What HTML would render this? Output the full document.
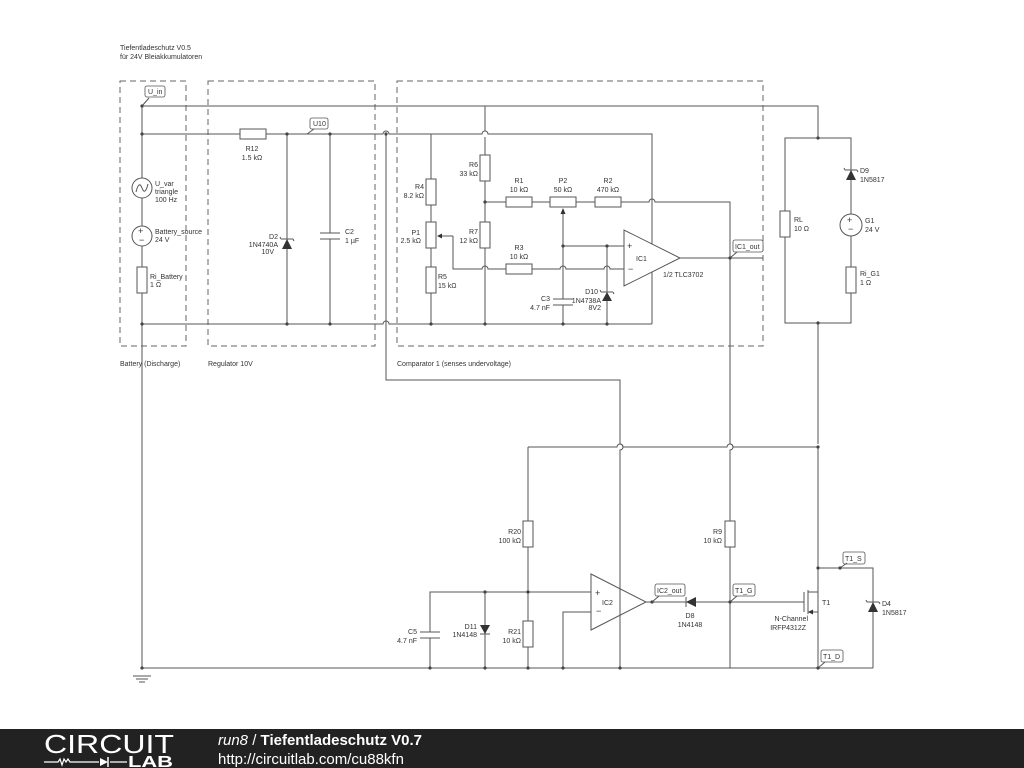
<!DOCTYPE html>
<html><head><meta charset="utf-8"><style>
html,body{margin:0;padding:0;background:#fff;}
svg{display:block;font-family:"Liberation Sans",sans-serif;}
.w{stroke:#555;stroke-width:1;fill:none;}
.d{stroke:#666;stroke-width:1;fill:none;stroke-dasharray:6,4;}
.r{stroke:#555;stroke-width:1;fill:#fff;}
text{font-size:7px;fill:#333;}
.lb{fill:#fff;stroke:#555;stroke-width:0.8;}
.n{fill:#444;}
</style></head><body>
<svg width="1024" height="768" viewBox="0 0 1024 768">
<rect width="1024" height="768" fill="#fff"/>
<text x="120" y="50">Tiefentladeschutz V0.5</text>
<text x="120" y="59">für 24V Bleiakkumulatoren</text>
<rect class="d" x="120" y="81" width="66" height="265"/>
<rect class="d" x="208" y="81" width="167" height="265"/>
<rect class="d" x="397" y="81" width="366" height="265"/>
<text x="120" y="366">Battery (Discharge)</text>
<text x="208" y="366">Regulator 10V</text>
<text x="397" y="366">Comparator 1 (senses undervoltage)</text>

<path class="w" d="M142 106 H818 V138"/>
<path class="w" d="M142 106 V668"/>
<circle class="r" cx="142" cy="188" r="10"/>
<path class="w" d="M136 192 Q139 180 142 188 Q145 196 148 184"/>
<text x="155" y="186">U_var</text><text x="155" y="194">triangle</text><text x="155" y="202">100 Hz</text>
<circle class="r" cx="142" cy="236" r="10"/>
<text x="138" y="234" style="font-size:9px">+</text><text x="139" y="243" style="font-size:9px">−</text>
<text x="155" y="234">Battery_source</text><text x="155" y="242">24 V</text>
<rect class="r" x="137" y="267" width="10" height="26"/>
<text x="150" y="279">Ri_Battery</text><text x="150" y="287">1 Ω</text>
<path class="w" d="M133 676 H151 M136 679 H148 M139 682 H145"/>

<path class="w" d="M142 134 H383 A3 3 0 0 1 389 134 H482 A3 3 0 0 1 488 134 H652 V324"/>
<rect class="r" x="240" y="129" width="26" height="10"/>
<text x="252" y="151" text-anchor="middle">R12</text><text x="252" y="160" text-anchor="middle">1.5 kΩ</text>
<path class="w" d="M142 324 H383 A3 3 0 0 1 389 324 H652"/>
<path class="w" d="M287 134 V324"/>
<polygon points="282,249 292,249 287,239" fill="#333"/>
<path class="w" d="M281 239 H293 M281 239 l-1 -2 M293 239 l1 2"/>
<text x="278" y="239" text-anchor="end">D2</text><text x="278" y="247" text-anchor="end">1N4740A</text><text x="274" y="254" text-anchor="end">10V</text>
<path class="w" d="M330 134 V233 M330 239 V324"/>
<path class="w" d="M320 233 H340 M320 239 H340"/>
<text x="345" y="234">C2</text><text x="345" y="243">1 µF</text>
<rect class="lb" x="310" y="118" width="18" height="11" rx="2"/><text x="313" y="126">U10</text>
<path class="w" d="M307 134 L314 129"/>
<rect class="lb" x="145" y="86" width="20" height="11" rx="2"/><text x="148" y="94">U_in</text>
<path class="w" d="M142 106 L149 98"/>

<path class="w" d="M386 134 V380 H620 V444 A3 3 0 0 1 620 450 V668"/>

<path class="w" d="M431 134 V324"/>
<rect class="r" x="426" y="179" width="10" height="26"/>
<text x="424" y="189" text-anchor="end">R4</text><text x="424" y="198" text-anchor="end">8.2 kΩ</text>
<rect class="r" x="426" y="222" width="10" height="26"/>
<text x="420" y="235" text-anchor="end">P1</text><text x="421" y="243" text-anchor="end">2.5 kΩ</text>
<rect class="r" x="426" y="267" width="10" height="26"/>
<text x="438" y="279">R5</text><text x="438" y="288">15 kΩ</text>
<path class="w" d="M453 236 H438 M453 236 V269 H482 A3 3 0 0 1 488 269 H560 A3 3 0 0 1 566 269 H604 A3 3 0 0 1 610 269 H624"/>
<polygon points="437,236 442,233.5 442,238.5" fill="#333"/>
<rect class="r" x="506" y="264" width="26" height="10"/>
<text x="519" y="250" text-anchor="middle">R3</text><text x="519" y="259" text-anchor="middle">10 kΩ</text>

<path class="w" d="M485 106 V131 M485 137 V324"/>
<rect class="r" x="480" y="155" width="10" height="26"/>
<text x="478" y="167" text-anchor="end">R6</text><text x="478" y="176" text-anchor="end">33 kΩ</text>
<rect class="r" x="480" y="222" width="10" height="26"/>
<text x="478" y="234" text-anchor="end">R7</text><text x="478" y="243" text-anchor="end">12 kΩ</text>
<path class="w" d="M485 202 H649 A3 3 0 0 1 655 202 H730 V444 A3 3 0 0 1 730 450 V668"/>
<path class="w" d="M680 258 H763"/>
<rect class="r" x="506" y="197" width="26" height="10"/>
<text x="519" y="183" text-anchor="middle">R1</text><text x="519" y="192" text-anchor="middle">10 kΩ</text>
<rect class="r" x="550" y="197" width="26" height="10"/>
<text x="563" y="183" text-anchor="middle">P2</text><text x="563" y="192" text-anchor="middle">50 kΩ</text>
<rect class="r" x="595" y="197" width="26" height="10"/>
<text x="608" y="183" text-anchor="middle">R2</text><text x="608" y="192" text-anchor="middle">470 kΩ</text>
<path class="w" d="M563 209 V299 M563 305 V324"/>
<polygon points="563,208 560.5,214 565.5,214" fill="#333"/>
<path class="w" d="M563 246 H624 M607 246 V324"/>
<path class="w" d="M553 299 H573 M553 305 H573"/>
<text x="550" y="301" text-anchor="end">C3</text><text x="550" y="310" text-anchor="end">4.7 nF</text>
<polygon points="602,301 612,301 607,292" fill="#333"/>
<path class="w" d="M601 292 H613 M601 292 l-1 -2 M613 292 l1 2"/>
<text x="598" y="294" text-anchor="end">D10</text><text x="601" y="303" text-anchor="end">1N4738A</text><text x="601" y="310" text-anchor="end">8V2</text>
<polygon class="r" points="624,230 624,286 680,258"/>
<text x="627" y="249" style="font-size:9px">+</text><text x="628" y="272" style="font-size:9px">−</text>
<text x="636" y="261">IC1</text>
<text x="663" y="277">1/2 TLC3702</text>
<rect class="lb" x="733" y="240" width="30" height="12" rx="2"/><text x="735" y="249">IC1_out</text>
<path class="w" d="M730 258 L737 252"/>

<path class="w" d="M785 138 H851 V323 H785 Z"/>
<path class="w" d="M818 323 V444 M818 447 V668"/>
<rect class="r" x="780" y="211" width="10" height="26"/>
<text x="794" y="222">RL</text><text x="794" y="231">10 Ω</text>
<polygon points="846,180 856,180 851,170" fill="#333"/>
<path class="w" d="M845 170 H857 M845 170 l-1 -2 M857 170 l1 2"/>
<text x="860" y="173">D9</text><text x="860" y="182">1N5817</text>
<circle class="r" cx="851" cy="225" r="11"/>
<text x="847" y="223" style="font-size:9px">+</text><text x="848" y="232" style="font-size:9px">−</text>
<text x="865" y="223">G1</text><text x="865" y="232">24 V</text>
<rect class="r" x="846" y="267" width="10" height="26"/>
<text x="860" y="276">Ri_G1</text><text x="860" y="285">1 Ω</text>

<path class="w" d="M528 447 H617 A3 3 0 0 1 623 447 H727 A3 3 0 0 1 733 447 H818"/>
<path class="w" d="M528 447 V668"/>
<rect class="r" x="523" y="521" width="10" height="26"/>
<text x="521" y="534" text-anchor="end">R20</text><text x="521" y="543" text-anchor="end">100 kΩ</text>
<rect class="r" x="523" y="621" width="10" height="26"/>
<text x="521" y="634" text-anchor="end">R21</text><text x="521" y="643" text-anchor="end">10 kΩ</text>
<path class="w" d="M430 668 V638 M430 632 V592 H591"/>
<path class="w" d="M420 632 H440 M420 638 H440"/>
<text x="417" y="634" text-anchor="end">C5</text><text x="417" y="643" text-anchor="end">4.7 nF</text>
<path class="w" d="M485 592 V668"/>
<polygon points="480,625 490,625 485,634" fill="#333"/>
<path class="w" d="M480 634 H490"/>
<text x="477" y="629" text-anchor="end">D11</text><text x="477" y="637" text-anchor="end">1N4148</text>
<path class="w" d="M563 668 V612 H591"/>
<polygon class="r" points="591,574 591,630 646,602"/>
<path class="w" d="M620 574 V630"/>
<text x="595" y="596" style="font-size:9px">+</text><text x="596" y="614" style="font-size:9px">−</text>
<text x="602" y="605">IC2</text>
<path class="w" d="M646 602 H804"/>
<polygon points="696,597 696,607 686,602" fill="#333"/>
<path class="w" d="M686 597 V607"/>
<text x="690" y="618" text-anchor="middle">D8</text><text x="690" y="627" text-anchor="middle">1N4148</text>
<rect class="lb" x="655" y="584" width="30" height="12" rx="2"/><text x="657" y="593">IC2_out</text>
<path class="w" d="M652 602 L659 596"/>
<rect class="lb" x="733" y="584" width="22" height="12" rx="2"/><text x="735" y="593">T1_G</text>
<path class="w" d="M730 602 L737 596"/>
<rect class="r" x="725" y="521" width="10" height="26"/>
<text x="722" y="534" text-anchor="end">R9</text><text x="722" y="543" text-anchor="end">10 kΩ</text>
<path class="w" d="M804 592 V612 M808 590 V614 M808 592 H818 M808 612 H818"/>
<polygon points="808,612 813,609.5 813,614.5" fill="#333"/>
<text x="822" y="605">T1</text>
<text x="808" y="621" text-anchor="end">N-Channel</text><text x="806" y="630" text-anchor="end">IRFP4312Z</text>
<path class="w" d="M818 568 H873 V668 M142 668 H873"/>
<polygon points="868,612 878,612 873,602" fill="#333"/>
<path class="w" d="M867 602 H879 M867 602 l-1 -2 M879 602 l1 2"/>
<text x="882" y="606">D4</text><text x="882" y="615">1N5817</text>
<rect class="lb" x="843" y="552" width="22" height="12" rx="2"/><text x="845" y="561">T1_S</text>
<path class="w" d="M840 568 L847 563"/>
<rect class="lb" x="821" y="650" width="22" height="12" rx="2"/><text x="823" y="659">T1_D</text>
<path class="w" d="M818 668 L825 662"/>

<g class="n">
<circle cx="142" cy="106" r="1.6"/><circle cx="142" cy="134" r="1.6"/><circle cx="142" cy="324" r="1.6"/><circle cx="142" cy="668" r="1.6"/>
<circle cx="287" cy="134" r="1.6"/><circle cx="330" cy="134" r="1.6"/><circle cx="386" cy="134" r="1.6"/>
<circle cx="287" cy="324" r="1.6"/><circle cx="330" cy="324" r="1.6"/><circle cx="431" cy="324" r="1.6"/><circle cx="485" cy="324" r="1.6"/><circle cx="563" cy="324" r="1.6"/><circle cx="607" cy="324" r="1.6"/>
<circle cx="485" cy="202" r="1.6"/><circle cx="563" cy="246" r="1.6"/><circle cx="607" cy="246" r="1.6"/>
<circle cx="730" cy="258" r="1.6"/><circle cx="818" cy="138" r="1.6"/><circle cx="818" cy="323" r="1.6"/><circle cx="818" cy="447" r="1.6"/>
<circle cx="528" cy="592" r="1.6"/><circle cx="485" cy="592" r="1.6"/><circle cx="430" cy="668" r="1.6"/><circle cx="485" cy="668" r="1.6"/><circle cx="528" cy="668" r="1.6"/><circle cx="563" cy="668" r="1.6"/><circle cx="620" cy="668" r="1.6"/>
<circle cx="730" cy="602" r="1.6"/><circle cx="652" cy="602" r="1.6"/><circle cx="818" cy="568" r="1.6"/><circle cx="840" cy="568" r="1.6"/><circle cx="818" cy="668" r="1.6"/>
</g>

<rect x="0" y="729" width="1024" height="39" fill="#222"/>
<text x="44" y="753" textLength="130" lengthAdjust="spacingAndGlyphs" style="font-size:26px;fill:#fff">CIRCUIT</text>
<path d="M44 762 H58 l2 -3 l2 6 l2 -6 l2 3 l2 -3 l2 3 H99 M110 762 H127" stroke="#fff" stroke-width="1.2" fill="none"/>
<polygon points="100,758 100,766 108,762" fill="#fff"/><path d="M108 757 V767" stroke="#fff" stroke-width="1.5"/>
<text x="128" y="767" textLength="45" lengthAdjust="spacingAndGlyphs" style="font-size:16px;fill:#fff;font-weight:bold">LAB</text>
<text x="218" y="745" style="font-size:15px;fill:#fff"><tspan font-style="italic">run8</tspan> / <tspan font-weight="bold">Tiefentladeschutz V0.7</tspan></text>
<text x="218" y="764" style="font-size:15px;fill:#fff">http://circuitlab.com/cu88kfn</text>
</svg>
</body></html>
